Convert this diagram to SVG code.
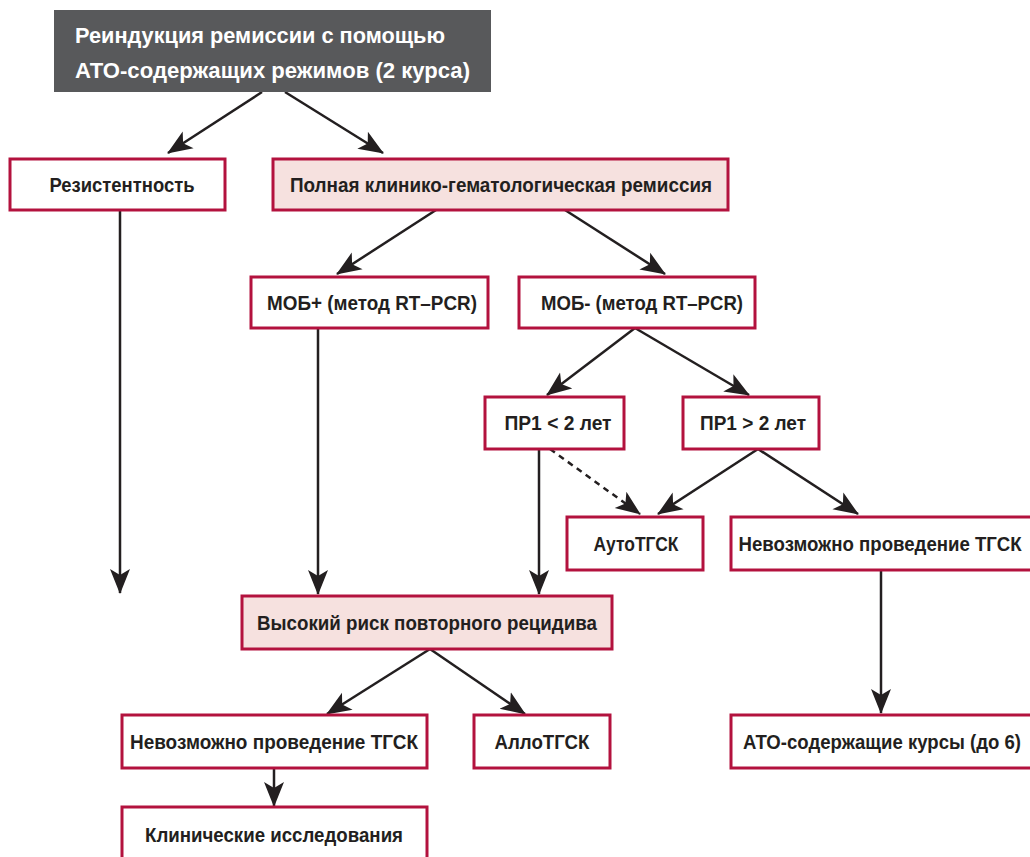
<svg xmlns="http://www.w3.org/2000/svg" width="1030" height="857" viewBox="0 0 1030 857">
<defs>
<marker id="ah" markerUnits="userSpaceOnUse" markerWidth="26" markerHeight="22" viewBox="0 0 26 22" refX="24" refY="11" orient="auto">
<path d="M0,1 L25,11 L0,21 L6,11 z" fill="#231f20"/>
</marker>
<style>
.b{fill:#fff;stroke:#b3123e;stroke-width:3}
.p{fill:#f6e1df;stroke:#b3123e;stroke-width:3}
.t{font-family:"Liberation Sans",Arial,sans-serif;font-size:19.5px;font-weight:bold;fill:#231f20;text-anchor:middle}
.h{font-family:"Liberation Sans",Arial,sans-serif;font-size:22px;font-weight:bold;fill:#fff}
.c{stroke:#231f20;stroke-width:2.5;fill:none;marker-end:url(#ah)}
</style>
</defs>
<rect width="1030" height="857" fill="#fff"/>
<g id="connectors">
<line class="c" x1="262" y1="92" x2="168" y2="153"/>
<line class="c" x1="285" y1="92" x2="383" y2="153"/>
<line class="c" x1="120" y1="210" x2="120" y2="593"/>
<line class="c" x1="436" y1="210" x2="337" y2="274"/>
<line class="c" x1="565" y1="210" x2="665" y2="274"/>
<line class="c" x1="318" y1="328" x2="318" y2="594"/>
<line class="c" x1="635" y1="328" x2="547" y2="395"/>
<line class="c" x1="635" y1="328" x2="749" y2="395"/>
<line class="c" x1="539" y1="449" x2="539" y2="594"/>
<line class="c" x1="550" y1="449" x2="640" y2="514" stroke-dasharray="6,5"/>
<line class="c" x1="758" y1="449" x2="658" y2="514"/>
<line class="c" x1="758" y1="449" x2="858" y2="514"/>
<line class="c" x1="881" y1="570" x2="881" y2="713"/>
<line class="c" x1="430" y1="649" x2="327" y2="714"/>
<line class="c" x1="430" y1="649" x2="525" y2="714"/>
<line class="c" x1="274" y1="768" x2="274" y2="806"/>
</g>
<g id="n_reind">
<rect x="54" y="10" width="437" height="82" fill="#58595b"/>
<text class="h" x="75" y="43" textLength="370" lengthAdjust="spacingAndGlyphs">Реиндукция ремиссии с помощью</text>
<text class="h" x="75" y="78" textLength="395" lengthAdjust="spacingAndGlyphs">АТО-содержащих режимов (2 курса)</text>
</g>
<g id="n_resist"><rect class="b" x="10" y="159" width="215" height="51"/><text class="t" x="122" y="191.5" textLength="145" lengthAdjust="spacingAndGlyphs">Резистентность</text></g>
<g id="n_full"><rect class="p" x="273" y="159" width="455" height="51"/><text class="t" x="501" y="191.5" textLength="422" lengthAdjust="spacingAndGlyphs">Полная клинико-гематологическая ремиссия</text></g>
<g id="n_mobp"><rect class="b" x="251" y="277" width="237" height="51"/><text class="t" x="372" y="309.5" textLength="210" lengthAdjust="spacingAndGlyphs">МОБ+ (метод RT–PCR)</text></g>
<g id="n_mobm"><rect class="b" x="519" y="277" width="236" height="51"/><text class="t" x="642" y="309.5" textLength="202" lengthAdjust="spacingAndGlyphs">МОБ- (метод RT–PCR)</text></g>
<g id="n_pr1lt"><rect class="b" x="485" y="397" width="139" height="52"/><text class="t" x="558" y="429.5" textLength="107" lengthAdjust="spacingAndGlyphs">ПР1 &lt; 2 лет</text></g>
<g id="n_pr1gt"><rect class="b" x="683" y="397" width="136" height="52"/><text class="t" x="753" y="429.5" textLength="106" lengthAdjust="spacingAndGlyphs">ПР1 &gt; 2 лет</text></g>
<g id="n_auto"><rect class="b" x="567" y="517" width="136" height="53"/><text class="t" x="636" y="550.5" textLength="85" lengthAdjust="spacingAndGlyphs">АутоТГСК</text></g>
<g id="n_noright"><rect class="b" x="731" y="517" width="311" height="53"/><text class="t" x="880" y="550.5" textLength="283" lengthAdjust="spacingAndGlyphs">Невозможно проведение ТГСК</text></g>
<g id="n_high"><rect class="p" x="242" y="596" width="370" height="53"/><text class="t" x="427" y="629.5" textLength="340" lengthAdjust="spacingAndGlyphs">Высокий риск повторного рецидива</text></g>
<g id="n_noleft"><rect class="b" x="122" y="715" width="305" height="53"/><text class="t" x="274" y="748.5" textLength="288" lengthAdjust="spacingAndGlyphs">Невозможно проведение ТГСК</text></g>
<g id="n_allo"><rect class="b" x="474" y="715" width="136" height="53"/><text class="t" x="542" y="748.5" textLength="95" lengthAdjust="spacingAndGlyphs">АллоТГСК</text></g>
<g id="n_ato"><rect class="b" x="731" y="715" width="311" height="53"/><text class="t" x="882" y="748.5" textLength="278" lengthAdjust="spacingAndGlyphs">АТО-содержащие курсы (до 6)</text></g>
<g id="n_clin"><rect class="b" x="122" y="807" width="305" height="60"/><text class="t" x="274" y="841.5" textLength="258" lengthAdjust="spacingAndGlyphs">Клинические исследования</text></g>
</svg>
